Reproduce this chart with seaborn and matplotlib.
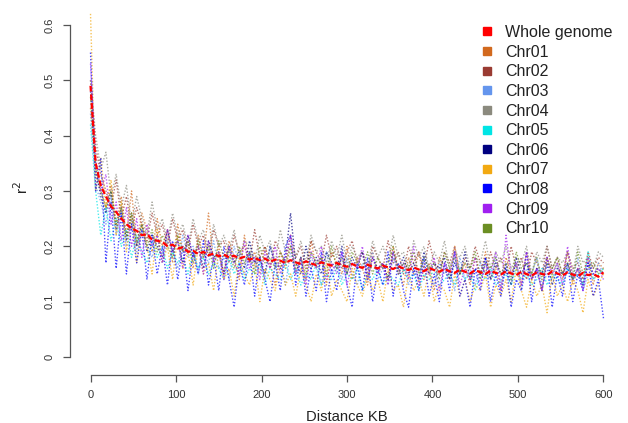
import numpy as np
import pandas as pd
import matplotlib
matplotlib.use("Agg")
import matplotlib.pyplot as plt
import seaborn as sns
from matplotlib.lines import Line2D

sns.set_style("white")
plt.rcParams['font.family'] = ['Liberation Sans', 'DejaVu Sans']

# distance grid (KB)
distance_kb = list(range(0, 601, 6))

whole_genome = [
    0.49,0.35,0.31,0.29,0.272,0.262,0.25,0.24,0.232,0.228,0.22,0.222,0.212,0.21,0.208,0.2,0.203,0.196,0.198,0.19,
    0.192,0.186,0.19,0.184,0.187,0.182,0.185,0.18,0.183,0.178,0.181,0.176,0.179,0.175,0.178,0.172,0.176,0.174,0.17,0.175,
    0.171,0.168,0.173,0.169,0.166,0.171,0.168,0.165,0.17,0.166,0.163,0.168,0.164,0.161,0.167,0.163,0.16,0.165,0.162,0.159,
    0.164,0.16,0.157,0.162,0.158,0.155,0.161,0.157,0.154,0.159,0.155,0.152,0.158,0.154,0.151,0.157,0.153,0.15,0.156,0.152,
    0.149,0.155,0.151,0.148,0.154,0.15,0.147,0.153,0.15,0.148,0.155,0.151,0.147,0.153,0.149,0.146,0.152,0.148,0.15,0.145,0.153]

chr01 = [
    0.45,0.33,0.3,0.27,0.31,0.24,0.29,0.22,0.3,0.2,0.26,0.23,0.19,0.25,0.2,0.23,0.17,0.24,0.19,0.21,
    0.16,0.22,0.18,0.26,0.17,0.2,0.15,0.21,0.18,0.14,0.22,0.17,0.19,0.15,0.2,0.17,0.13,0.19,0.16,0.2,
    0.15,0.18,0.14,0.21,0.16,0.18,0.13,0.19,0.17,0.15,0.2,0.14,0.18,0.16,0.13,0.19,0.15,0.17,0.14,0.2,
    0.16,0.13,0.18,0.15,0.19,0.14,0.17,0.12,0.18,0.16,0.14,0.2,0.15,0.17,0.13,0.18,0.15,0.19,0.14,0.16,
    0.12,0.18,0.15,0.17,0.13,0.19,0.14,0.16,0.12,0.18,0.15,0.17,0.14,0.19,0.13,0.16,0.15,0.18,0.13,0.17,0.16]

chr02 = [
    0.5,0.38,0.33,0.3,0.27,0.32,0.25,0.29,0.23,0.27,0.24,0.21,0.26,0.22,0.24,0.2,0.25,0.21,0.23,0.19,
    0.24,0.2,0.22,0.18,0.23,0.2,0.21,0.17,0.22,0.19,0.2,0.17,0.23,0.18,0.2,0.16,0.21,0.19,0.17,0.22,
    0.18,0.2,0.16,0.21,0.19,0.17,0.22,0.18,0.2,0.16,0.19,0.21,0.17,0.19,0.15,0.2,0.18,0.16,0.21,0.17,
    0.19,0.15,0.2,0.17,0.19,0.16,0.21,0.17,0.15,0.19,0.17,0.2,0.15,0.18,0.16,0.2,0.17,0.15,0.19,0.16,
    0.18,0.15,0.2,0.16,0.18,0.14,0.19,0.17,0.15,0.2,0.16,0.18,0.15,0.19,0.16,0.17,0.14,0.19,0.16,0.18,0.17]

chr03 = [
    0.44,0.31,0.28,0.24,0.29,0.22,0.26,0.2,0.25,0.19,0.23,0.2,0.18,0.22,0.17,0.21,0.19,0.16,0.22,0.18,
    0.2,0.15,0.19,0.17,0.21,0.16,0.18,0.14,0.2,0.17,0.15,0.19,0.16,0.18,0.14,0.2,0.16,0.17,0.13,0.19,
    0.15,0.17,0.14,0.18,0.16,0.13,0.19,0.15,0.17,0.14,0.18,0.15,0.13,0.17,0.16,0.19,0.14,0.16,0.13,0.18,
    0.15,0.17,0.13,0.16,0.14,0.18,0.15,0.13,0.17,0.15,0.16,0.12,0.18,0.14,0.16,0.13,0.17,0.15,0.14,0.18,
    0.13,0.16,0.14,0.17,0.12,0.16,0.15,0.18,0.13,0.15,0.14,0.17,0.13,0.16,0.14,0.18,0.12,0.15,0.14,0.17,0.15]

chr04 = [
    0.5,0.4,0.34,0.37,0.29,0.33,0.27,0.31,0.24,0.29,0.25,0.22,0.28,0.23,0.25,0.21,0.26,0.22,0.24,0.2,
    0.25,0.21,0.23,0.19,0.24,0.2,0.22,0.19,0.23,0.18,0.21,0.2,0.17,0.22,0.19,0.21,0.17,0.23,0.19,0.2,
    0.18,0.21,0.17,0.22,0.19,0.2,0.17,0.21,0.18,0.22,0.17,0.2,0.18,0.19,0.16,0.21,0.18,0.2,0.17,0.22,
    0.18,0.19,0.16,0.21,0.18,0.2,0.16,0.19,0.17,0.21,0.16,0.19,0.18,0.2,0.16,0.18,0.17,0.21,0.16,0.19,
    0.17,0.2,0.16,0.18,0.17,0.2,0.15,0.19,0.17,0.2,0.16,0.18,0.17,0.19,0.15,0.2,0.17,0.18,0.16,0.19,0.18]

chr05 = [
    0.42,0.3,0.22,0.27,0.21,0.25,0.2,0.23,0.18,0.22,0.19,0.17,0.21,0.18,0.2,0.16,0.19,0.17,0.18,0.15,
    0.19,0.16,0.18,0.15,0.17,0.16,0.14,0.18,0.15,0.17,0.14,0.16,0.15,0.17,0.13,0.16,0.15,0.14,0.17,0.14,
    0.16,0.13,0.15,0.14,0.17,0.13,0.15,0.14,0.16,0.13,0.15,0.14,0.16,0.12,0.15,0.14,0.16,0.13,0.15,0.14,
    0.13,0.16,0.14,0.15,0.12,0.15,0.14,0.16,0.13,0.14,0.15,0.13,0.16,0.14,0.15,0.12,0.15,0.14,0.16,0.13,
    0.14,0.15,0.13,0.16,0.14,0.15,0.13,0.14,0.16,0.13,0.15,0.14,0.13,0.16,0.14,0.15,0.13,0.19,0.14,0.15,0.16]

chr06 = [
    0.48,0.34,0.29,0.26,0.3,0.23,0.27,0.21,0.26,0.2,0.24,0.19,0.22,0.2,0.18,0.23,0.19,0.21,0.17,0.22,
    0.18,0.2,0.16,0.21,0.18,0.19,0.15,0.2,0.17,0.19,0.16,0.21,0.17,0.18,0.15,0.2,0.17,0.16,0.18,0.26,
    0.17,0.15,0.2,0.16,0.18,0.15,0.19,0.17,0.16,0.2,0.15,0.18,0.16,0.19,0.14,0.18,0.16,0.17,0.14,0.19,
    0.16,0.18,0.15,0.17,0.14,0.19,0.15,0.17,0.16,0.18,0.14,0.17,0.15,0.19,0.14,0.16,0.15,0.18,0.14,0.17,
    0.15,0.16,0.13,0.18,0.15,0.17,0.14,0.16,0.15,0.18,0.13,0.16,0.15,0.17,0.14,0.16,0.13,0.17,0.15,0.16,0.15]

chr07 = [
    0.62,0.3,0.36,0.27,0.32,0.22,0.28,0.19,0.26,0.17,0.24,0.2,0.15,0.23,0.17,0.2,0.14,0.22,0.16,0.19,
    0.13,0.2,0.15,0.17,0.12,0.19,0.14,0.16,0.11,0.18,0.15,0.13,0.17,0.1,0.16,0.14,0.12,0.17,0.13,0.15,
    0.11,0.16,0.13,0.1,0.15,0.12,0.17,0.11,0.14,0.12,0.1,0.16,0.13,0.11,0.15,0.12,0.14,0.1,0.16,0.12,
    0.13,0.09,0.15,0.12,0.14,0.11,0.16,0.1,0.13,0.12,0.09,0.15,0.11,0.14,0.1,0.13,0.12,0.15,0.09,0.13,
    0.11,0.14,0.1,0.16,0.12,0.09,0.14,0.11,0.13,0.08,0.15,0.11,0.13,0.1,0.14,0.12,0.08,0.14,0.11,0.13,0.15]

chr08 = [
    0.55,0.3,0.36,0.17,0.28,0.16,0.26,0.15,0.24,0.17,0.23,0.14,0.22,0.15,0.2,0.13,0.21,0.14,0.2,0.12,
    0.19,0.15,0.21,0.13,0.18,0.12,0.2,0.14,0.09,0.17,0.13,0.19,0.11,0.18,0.14,0.1,0.17,0.12,0.2,0.22,
    0.13,0.18,0.11,0.16,0.12,0.19,0.1,0.16,0.12,0.19,0.13,0.09,0.17,0.12,0.18,0.1,0.16,0.13,0.19,0.11,
    0.17,0.12,0.09,0.16,0.12,0.18,0.11,0.15,0.1,0.17,0.12,0.19,0.11,0.14,0.09,0.16,0.12,0.18,0.1,0.15,
    0.11,0.17,0.09,0.14,0.12,0.19,0.1,0.16,0.12,0.17,0.09,0.15,0.11,0.17,0.1,0.15,0.12,0.17,0.11,0.14,0.07]

chr09 = [
    0.53,0.36,0.3,0.33,0.24,0.28,0.21,0.27,0.2,0.25,0.18,0.24,0.2,0.22,0.17,0.23,0.19,0.21,0.16,0.22,
    0.18,0.2,0.15,0.21,0.17,0.19,0.14,0.2,0.17,0.15,0.21,0.16,0.18,0.14,0.19,0.16,0.2,0.15,0.18,0.22,
    0.15,0.18,0.13,0.19,0.16,0.2,0.14,0.17,0.15,0.19,0.13,0.17,0.16,0.2,0.14,0.18,0.15,0.17,0.13,0.19,
    0.15,0.17,0.14,0.2,0.13,0.16,0.15,0.18,0.12,0.17,0.15,0.19,0.13,0.16,0.14,0.18,0.13,0.17,0.15,0.19,
    0.12,0.22,0.15,0.17,0.13,0.19,0.14,0.16,0.12,0.18,0.15,0.17,0.13,0.2,0.14,0.16,0.12,0.18,0.15,0.16,0.14]

chr10 = [
    0.47,0.35,0.3,0.27,0.3,0.24,0.27,0.22,0.26,0.21,0.24,0.2,0.23,0.19,0.22,0.2,0.18,0.22,0.19,0.21,
    0.17,0.21,0.18,0.2,0.16,0.21,0.18,0.19,0.16,0.2,0.17,0.19,0.15,0.2,0.17,0.18,0.16,0.19,0.17,0.2,
    0.16,0.18,0.15,0.19,0.17,0.18,0.15,0.2,0.16,0.18,0.15,0.19,0.17,0.16,0.19,0.15,0.18,0.16,0.17,0.2,
    0.15,0.17,0.16,0.19,0.15,0.18,0.16,0.17,0.14,0.19,0.16,0.18,0.15,0.17,0.16,0.19,0.14,0.17,0.16,0.18,
    0.15,0.17,0.14,0.19,0.16,0.17,0.15,0.18,0.14,0.17,0.16,0.18,0.15,0.17,0.14,0.19,0.15,0.16,0.17,0.15,0.16]

series_names = ["Whole genome", "Chr01", "Chr02", "Chr03", "Chr04", "Chr05",
                "Chr06", "Chr07", "Chr08", "Chr09", "Chr10"]
series_values = [whole_genome, chr01, chr02, chr03, chr04, chr05,
                 chr06, chr07, chr08, chr09, chr10]
colors = ["#FF0000", "#D2691E", "#9A3B32", "#6495ED", "#8B8A7E", "#00E5E5",
          "#000080", "#F2A912", "#0000FF", "#A020F0", "#6B8E23"]

y_ticks = [0, 0.1, 0.2, 0.3, 0.4, 0.5, 0.6]
y_tick_labels = ["0", "0.1", "0.2", "0.3", "0.4", "0.5", "0.6"]
x_ticks = [0, 100, 200, 300, 400, 500, 600]

fig = plt.figure(figsize=(6.28, 4.23), dpi=100)
ax = fig.add_axes([70/628, 1 - 375/423, 554/628, 375/423])

# chromosomes first (underneath), whole genome last
order = list(range(1, 11)) + [0]
for i in order:
    df = pd.DataFrame({"x": distance_kb, "y": series_values[i]})
    if i == 0:
        sns.lineplot(data=df, x="x", y="y", ax=ax, color=colors[i], lw=1.6,
                     linestyle=(0, (2.6, 1.3)), zorder=5, legend=False)
    else:
        sns.lineplot(data=df, x="x", y="y", ax=ax, color=colors[i], lw=1.0,
                     linestyle=(0, (1, 1.3)), alpha=0.7, zorder=2, legend=False)

ax.set_xlim(-24, 624)
ax.set_ylim(-0.0325, 0.645)
for s in ["top", "right"]:
    ax.spines[s].set_visible(False)
for s in ["left", "bottom"]:
    ax.spines[s].set_color("#555555")
    ax.spines[s].set_linewidth(0.9)
ax.spines["left"].set_bounds(0, 0.6)
ax.spines["bottom"].set_bounds(0, 600)

ax.set_yticks(y_ticks)
ax.set_yticklabels(y_tick_labels, rotation=90, va="center")
ax.set_xticks(x_ticks)
ax.tick_params(axis="both", which="major", bottom=True, left=True,
               direction="out", length=5, width=0.9, color="#555555",
               labelsize=8, labelcolor="#333333")
ax.tick_params(axis="y", pad=6)
ax.tick_params(axis="x", pad=6)
ax.set_xlabel("Distance KB", fontsize=10.6, color="#222222", labelpad=7)
ax.set_ylabel("r$^2$", fontsize=11, color="#222222", labelpad=10)

handles = [Line2D([], [], marker="s", linestyle="none", color=c, markersize=5.5)
           for c in colors]
leg = ax.legend(handles, series_names, loc="upper left",
                bbox_to_anchor=(481/628, 1 - 25/423), bbox_transform=fig.transFigure,
                frameon=False, fontsize=11.5, handlelength=0.8, handletextpad=0.7,
                labelspacing=0.29, borderpad=0, borderaxespad=0)
for t in leg.get_texts():
    t.set_color("#222222")

fig.savefig("out.png", dpi=100)
